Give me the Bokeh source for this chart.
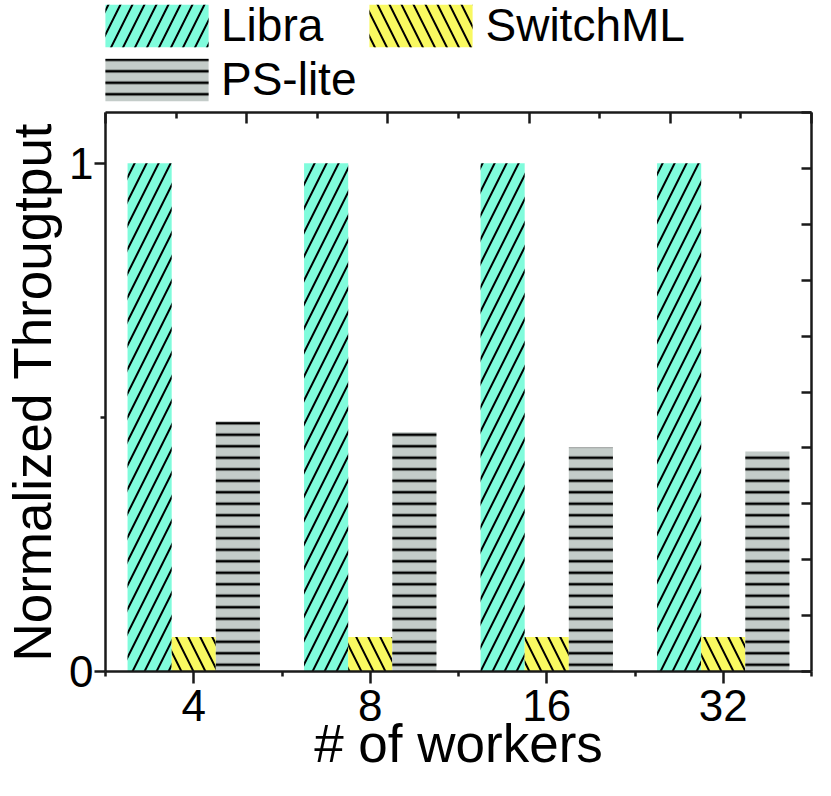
from bokeh.plotting import figure
from bokeh.layouts import column
from bokeh.models import (LinearAxis, FixedTicker, Range1d, Legend, LegendItem, ColumnDataSource)
from bokeh.transform import dodge
from bokeh.embed import file_html
from bokeh.resources import INLINE

# ---- data ----
workers = ["4", "8", "16", "32"]
libra = [1.0, 1.0, 1.0, 1.0]
switchml = [0.068, 0.068, 0.068, 0.068]
ps_lite = [0.492, 0.471, 0.441, 0.433]
y_ticks = [0, 1]
y_tick_labels = ["0", "1"]
series_names = ["Libra", "SwitchML", "PS-lite"]

FONT = "Liberation Sans, Arial, sans-serif"
COLORS = ["#80FCDC", "#F9F961", "#C4CCC9"]
HATCH = ["/", "\\", "-"]
HATCH_SCALE = [24, 24, 11.5]
HATCH_W = [2.0, 2.0, 2.6]

W = 815
LEG_H = 106
MAIN_H = 670
B_LEFT, B_RIGHT, B_TOP, B_BOTTOM = 96, 4, 6, 105

xpos = [i + 1 for i in range(len(workers))]
bar_w = 0.25
src = ColumnDataSource(dict(x=xpos, libra=libra, switchml=switchml, ps=ps_lite))
cols = ["libra", "switchml", "ps"]
offsets = [-bar_w, 0, bar_w]

p = figure(width=W, height=MAIN_H, output_backend="svg", toolbar_location=None,
           x_range=Range1d(0.5, len(workers) + 0.5), y_range=Range1d(0, 1.1),
           x_axis_location=None, y_axis_location=None,
           min_border_left=B_LEFT, min_border_right=B_RIGHT,
           min_border_top=B_TOP, min_border_bottom=B_BOTTOM)
p.outline_line_color = None
p.grid.visible = False

for c, off, fc, hp, hs, hw in zip(cols, offsets, COLORS, HATCH, HATCH_SCALE, HATCH_W):
    p.vbar(x=dodge("x", off, range=p.x_range), top=c, width=bar_w, source=src,
           fill_color=fc, line_color=None,
           hatch_pattern=hp, hatch_color="black", hatch_weight=hw, hatch_scale=hs)

AX_W = 2.5
AX_C = "#1a1a1a"


def style_lines(a):
    a.axis_line_width = AX_W
    a.major_tick_line_width = AX_W
    a.minor_tick_line_width = AX_W
    a.axis_line_color = AX_C
    a.major_tick_line_color = AX_C
    a.minor_tick_line_color = AX_C


# bottom axis
xb = LinearAxis(ticker=FixedTicker(ticks=xpos, minor_ticks=[x - 0.5 for x in xpos] + [xpos[-1] + 0.5]))
xb.major_label_overrides = {x: w for x, w in zip(xpos, workers)}
xb.axis_label = "# of workers"
xb.major_tick_out = 12; xb.major_tick_in = 0
xb.minor_tick_out = 5; xb.minor_tick_in = 0
xb.major_label_standoff = 6
xb.axis_label_standoff = -10
xb.major_label_text_font = FONT
xb.major_label_text_font_size = "44px"
xb.axis_label_text_font = FONT
xb.axis_label_text_font_size = "53px"
xb.axis_label_text_font_style = "normal"
xb.major_label_text_color = "black"
xb.axis_label_text_color = "black"
style_lines(xb)
p.add_layout(xb, "below")

# left axis
yl = LinearAxis(ticker=FixedTicker(ticks=y_ticks, minor_ticks=[0.5]))
yl.major_label_overrides = {t: s for t, s in zip(y_ticks, y_tick_labels)}
yl.axis_label = "Normalized Througtput"
yl.major_tick_out = 11; yl.major_tick_in = 0
yl.minor_tick_out = 5; yl.minor_tick_in = 0
yl.major_label_standoff = 1
yl.axis_label_standoff = 4
yl.major_label_orientation = "horizontal"
yl.major_label_text_font = FONT
yl.major_label_text_font_size = "44px"
yl.axis_label_text_font = FONT
yl.axis_label_text_font_size = "53px"
yl.axis_label_text_font_style = "normal"
yl.major_label_text_color = "black"
yl.axis_label_text_color = "black"
style_lines(yl)
p.add_layout(yl, "left")

# top axis (frame ticks, 10 divisions, no labels)
x0, x1 = 0.5, len(workers) + 0.5
top_major = [x0 + (x1 - x0) * k / 5 for k in range(6)]
top_minor = [x0 + (x1 - x0) * (2 * k + 1) / 10 for k in range(5)]
xt = LinearAxis(ticker=FixedTicker(ticks=top_major, minor_ticks=top_minor))
xt.major_label_text_font_size = "1px"
xt.major_label_text_color = None
xt.major_label_standoff = 0
xt.major_tick_in = 11; xt.major_tick_out = 0
xt.minor_tick_in = 6; xt.minor_tick_out = 0
style_lines(xt)
p.add_layout(xt, "above")

# right axis (frame ticks, 10 divisions, no labels)
right_ticks = [1.1 * k / 10 for k in range(11)]
yr = LinearAxis(ticker=FixedTicker(ticks=right_ticks, minor_ticks=[]))
yr.major_label_text_font_size = "1px"
yr.major_label_text_color = None
yr.major_label_standoff = 0
yr.major_tick_in = 10; yr.major_tick_out = 0
style_lines(yr)
p.add_layout(yr, "right")

# legend strip above the plot (its bars lie outside its visible range)
lf = figure(width=W, height=LEG_H, output_backend="svg", toolbar_location=None,
            x_range=Range1d(0.5, len(workers) + 0.5), y_range=Range1d(5, 6),
            x_axis_location=None, y_axis_location=None,
            min_border_left=B_LEFT, min_border_right=B_RIGHT, min_border_top=0, min_border_bottom=0)
lf.outline_line_color = None
lf.grid.visible = False
leg_rs = []
for c, off, fc, hp, hs, hw in zip(cols, offsets, COLORS, HATCH, HATCH_SCALE, HATCH_W):
    leg_rs.append(lf.vbar(x=dodge("x", off, range=lf.x_range), top=c, width=bar_w, source=src,
                          fill_color=fc, line_color=None,
                          hatch_pattern=hp, hatch_color="black", hatch_weight=hw, hatch_scale=hs))
legend = Legend(items=[LegendItem(label=n, renderers=[r]) for n, r in zip(series_names, leg_rs)],
                orientation="horizontal", ncols=2,
                glyph_width=129, glyph_height=53, label_standoff=0, spacing=0,
                padding=0, margin=0, border_line_color=None, background_fill_alpha=0,
                label_text_font=FONT, label_text_font_size="46px", label_height=53,
                label_text_color="black",
                location=(-13, 0))
lf.add_layout(legend, "center")

open("out.html", "w").write(file_html(column(lf, p, spacing=0), INLINE))
